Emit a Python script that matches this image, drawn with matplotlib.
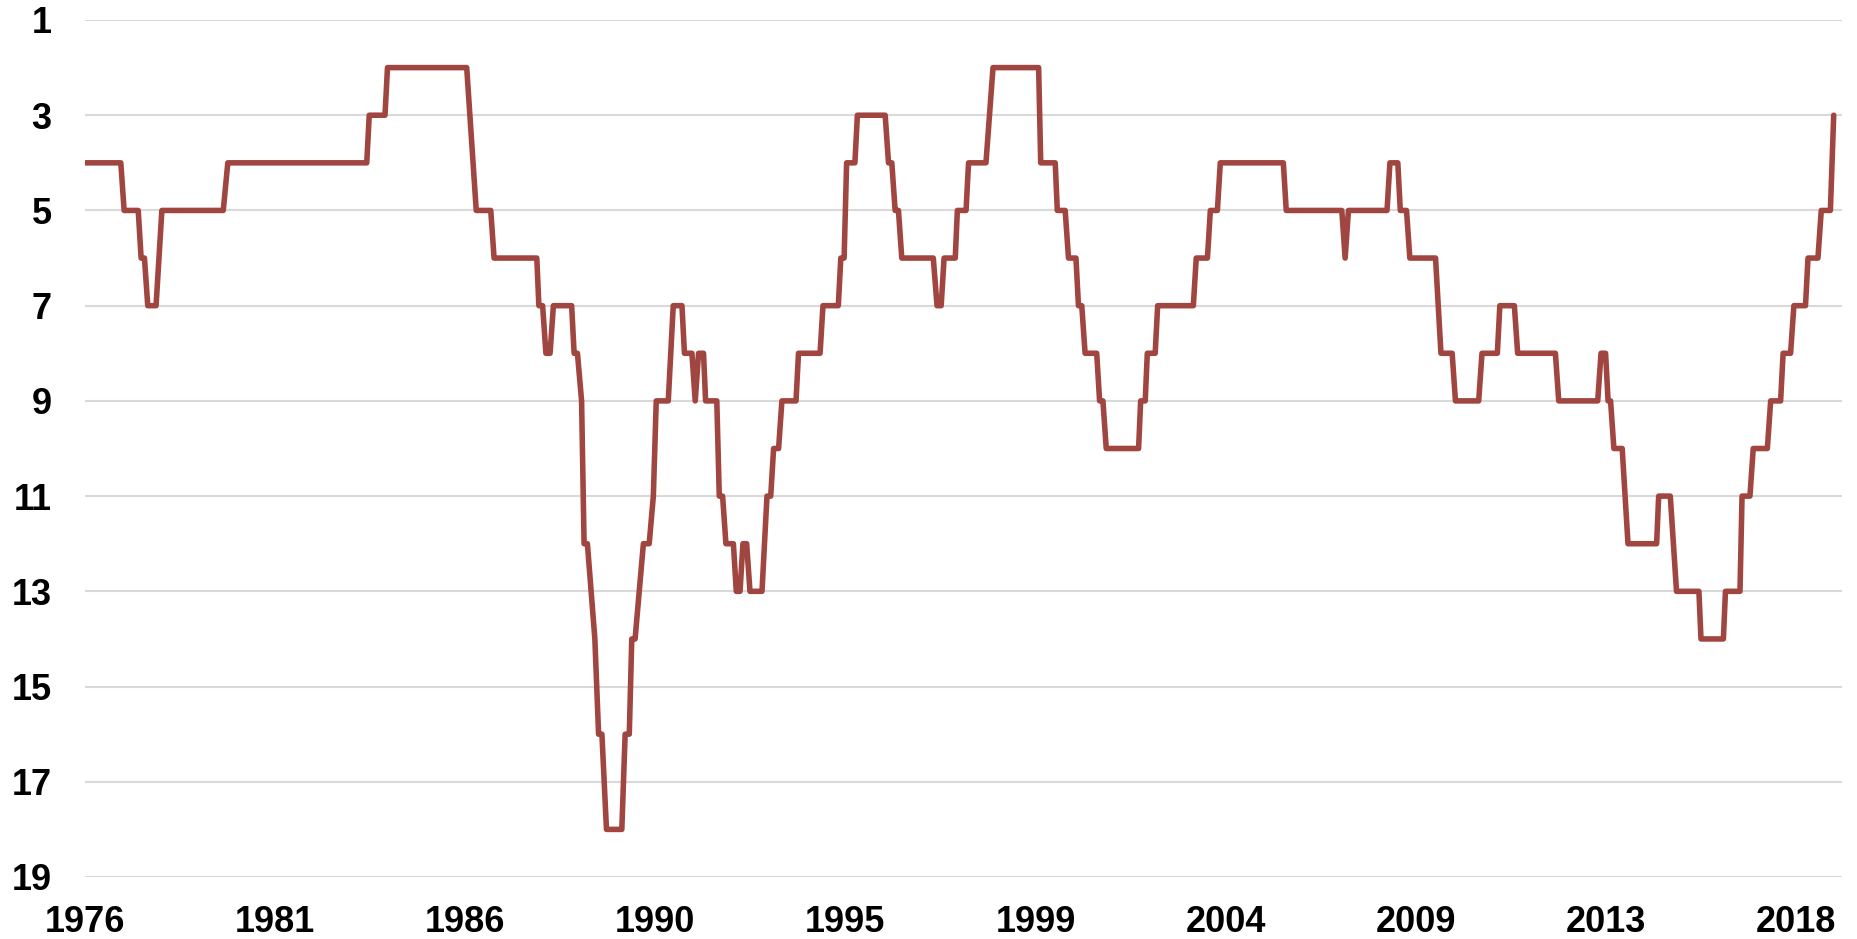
import matplotlib
matplotlib.use("Agg")
import matplotlib.pyplot as plt

# Vertices of the ranking line (decimal year, rank)
years = [1976.92, 1977.78, 1977.86, 1978.20, 1978.27, 1978.35, 1978.43, 1978.63, 1978.77,
         1980.25, 1980.36, 1983.71, 1983.77, 1984.15, 1984.21, 1986.12, 1986.35, 1986.70,
         1986.78, 1987.81, 1987.86, 1987.95, 1988.03, 1988.13, 1988.21, 1988.65, 1988.71,
         1988.79, 1988.89, 1988.95, 1989.03, 1989.21, 1989.30, 1989.38, 1989.49, 1989.86,
         1989.94, 1990.04, 1990.10, 1990.18, 1990.38, 1990.52, 1990.62, 1990.69, 1990.98,
         1991.10, 1991.31, 1991.37, 1991.55, 1991.63, 1991.71, 1991.83, 1991.88, 1992.15,
         1992.21, 1992.29, 1992.37, 1992.55, 1992.62, 1992.71, 1992.78, 1992.87, 1992.95,
         1993.24, 1993.36, 1993.45, 1993.52, 1993.64, 1993.72, 1994.06, 1994.12, 1994.64,
         1994.71, 1995.08, 1995.14, 1995.22, 1995.28, 1995.48, 1995.54, 1996.21, 1996.29,
         1996.37, 1996.45, 1996.53, 1996.61, 1997.37, 1997.46, 1997.56, 1997.63, 1997.90,
         1997.95, 1998.16, 1998.22, 1998.64, 1998.81, 1999.91, 1999.96, 2000.31, 2000.36,
         2000.55, 2000.63, 2000.81, 2000.87, 2000.95, 2001.03, 2001.31, 2001.38, 2001.46,
         2001.54, 2002.32, 2002.37, 2002.48, 2002.53, 2002.72, 2002.78, 2003.64, 2003.71,
         2003.98, 2004.05, 2004.22, 2004.29, 2005.81, 2005.88, 2007.22, 2007.30, 2007.38,
         2008.31, 2008.38, 2008.57, 2008.63, 2008.78, 2008.86, 2009.48, 2009.61, 2009.88,
         2009.96, 2010.52, 2010.60, 2010.97, 2011.03, 2011.38, 2011.46, 2012.37, 2012.45,
         2013.39, 2013.47, 2013.58, 2013.64, 2013.70, 2013.78, 2013.98, 2014.12, 2014.81,
         2014.86, 2015.14, 2015.29, 2015.83, 2015.88, 2016.42, 2016.47, 2016.82, 2016.87,
         2017.06, 2017.14, 2017.48, 2017.56, 2017.80, 2017.86, 2018.04, 2018.12, 2018.40,
         2018.46, 2018.70, 2018.78, 2019.00, 2019.08]
ranks = [4, 4, 5, 5, 6, 6, 7, 7, 5,
         5, 4, 4, 3, 3, 2, 2, 5, 5,
         6, 6, 7, 7, 8, 8, 7, 7, 8,
         8, 9, 12, 12, 14, 16, 16, 18, 18,
         16, 16, 14, 14, 12, 12, 11, 9, 9,
         7, 7, 8, 8, 9, 8, 8, 9, 9,
         11, 11, 12, 12, 13, 13, 12, 12, 13,
         13, 11, 11, 10, 10, 9, 9, 8, 8,
         7, 7, 6, 6, 4, 4, 3, 3, 4,
         4, 5, 5, 6, 6, 7, 7, 6, 6,
         5, 5, 4, 4, 2, 2, 4, 4, 5,
         5, 6, 6, 7, 7, 8, 8, 9, 9,
         10, 10, 9, 9, 8, 8, 7, 7, 6,
         6, 5, 5, 4, 4, 5, 5, 6, 5,
         5, 4, 4, 5, 5, 6, 6, 8, 8,
         9, 9, 8, 8, 7, 7, 8, 8, 9,
         9, 8, 8, 9, 9, 10, 10, 12, 12,
         11, 11, 13, 13, 14, 14, 13, 13, 11,
         11, 10, 10, 9, 9, 8, 8, 7, 7,
         6, 6, 5, 5, 3]

# Category-axis labels (monthly axis from Dec 1976, one label every 55 months)
tick_labels = ["1976", "1981", "1986", "1990", "1995", "1999", "2004", "2009", "2013", "2018"]
axis_start = 1976 + 11 / 12
label_step = 55 / 12
y_ticks = [1, 3, 5, 7, 9, 11, 13, 15, 17, 19]

plt.rcParams['font.family'] = ['Liberation Sans', 'DejaVu Sans']

fig = plt.figure(figsize=(18.57, 9.39), dpi=100)
ax = fig.add_axes([85 / 1857, 1 - 877 / 939, (1842 - 85) / 1857, (877 - 20) / 939])

ax.plot(years, ranks, color="#A0453F", linewidth=4.0, solid_joinstyle="round",
        solid_capstyle="round", zorder=3)

ax.set_ylim(19, 1)
ax.set_xlim(axis_start, 2019.28)
ax.set_yticks(y_ticks)
ax.set_yticklabels([str(v) for v in y_ticks])
ax.set_xticks([axis_start + i * label_step for i in range(len(tick_labels))])
ax.set_xticklabels(tick_labels)

ax.grid(axis="y", color="#D9D9D9", linewidth=1.5, zorder=0)
ax.grid(axis="x", visible=False)
for s in ax.spines.values():
    s.set_visible(False)
ax.tick_params(axis="both", length=0, labelsize=26)
ax.tick_params(axis="y", pad=24)
ax.tick_params(axis="x", pad=20)
for lbl in ax.get_xticklabels() + ax.get_yticklabels():
    lbl.set_fontweight("bold")
    lbl.set_color("black")

fig.savefig("out.png", dpi=100)
